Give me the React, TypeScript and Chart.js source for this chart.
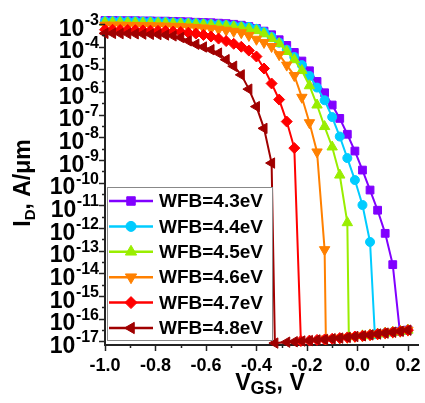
import React, { useEffect, useRef } from 'react';
import { Chart, registerables } from 'chart.js';
import { drawPoint } from 'chart.js/helpers';

Chart.register(...registerables);

// ---- data (log10 of drain current, A/um) ----
const vgs = [
  -1.0, -0.97, -0.94, -0.91, -0.88, -0.85, -0.82, -0.79, -0.76, -0.73,
  -0.7, -0.67, -0.64, -0.61, -0.58, -0.55, -0.52, -0.49, -0.46, -0.43,
  -0.4, -0.37, -0.34, -0.31, -0.28, -0.25, -0.22, -0.19, -0.16, -0.13,
  -0.1, -0.07, -0.04, -0.01, 0.02, 0.05, 0.08, 0.11, 0.14, 0.17, 0.2,
];

const legendLabels = ['WFB=4.3eV', 'WFB=4.4eV', 'WFB=4.5eV', 'WFB=4.6eV', 'WFB=4.7eV', 'WFB=4.8eV'];

const logId43 = [
  -2.84, -2.84, -2.85, -2.85, -2.85, -2.86, -2.86, -2.87, -2.87, -2.88,
  -2.89, -2.9, -2.92, -2.93, -2.94, -2.96, -2.98, -3.01, -3.05, -3.11,
  -3.19, -3.31, -3.47, -3.69, -3.94, -4.25, -4.63, -5.06, -5.53, -6.03,
  -6.57, -7.16, -7.86, -8.6, -9.44, -10.32, -11.21, -12.23, -13.61,
  -16.55, -16.5,
];
const logId44 = [
  -2.87, -2.87, -2.87, -2.88, -2.88, -2.89, -2.89, -2.9, -2.91, -2.93,
  -2.94, -2.95, -2.96, -2.98, -3.0, -3.02, -3.04, -3.07, -3.1, -3.13,
  -3.21, -3.35, -3.56, -3.82, -4.13, -4.45, -4.81, -5.29, -5.8, -6.36,
  -7.1, -7.96, -8.91, -9.88, -10.98, -12.61,
  -16.68, -16.63, -16.59, -16.55, -16.5,
];
const logId45 = [
  -2.93, -2.93, -2.93, -2.94, -2.94, -2.95, -2.95, -2.96, -2.97, -2.98,
  -2.99, -3.0, -3.01, -3.03, -3.05, -3.07, -3.09, -3.12, -3.16, -3.22,
  -3.29, -3.43, -3.64, -3.86, -4.21, -4.57, -5.05, -5.72, -6.57, -7.52,
  -8.42, -9.66, -11.76,
  -16.79, -16.75, -16.71, -16.67, -16.63, -16.59, -16.55, -16.5,
];
const logId46 = [
  -3.05, -3.05, -3.05, -3.06, -3.06, -3.07, -3.07, -3.08, -3.09, -3.1,
  -3.11, -3.13, -3.15, -3.17, -3.2, -3.23, -3.27, -3.32, -3.38, -3.5,
  -3.67, -3.81, -3.99, -4.35, -4.81, -5.27, -6.23, -7.35, -8.64, -12.95,
  -16.89, -16.85, -16.82, -16.78, -16.75, -16.71, -16.67, -16.63, -16.59, -16.55, -16.5,
];
const logId47 = [
  -3.25, -3.25, -3.26, -3.26, -3.27, -3.28, -3.29, -3.3, -3.31, -3.33,
  -3.35, -3.38, -3.42, -3.48, -3.55, -3.64, -3.75, -3.87, -4.0, -4.17,
  -4.43, -4.96, -5.62, -6.33, -7.3, -8.47,
  -16.98, -16.96, -16.93, -16.91, -16.88, -16.85, -16.82, -16.78, -16.75, -16.71,
  -16.67, -16.63, -16.59, -16.55, -16.5,
];
const logId48 = [
  -3.41, -3.41, -3.42, -3.42, -3.43, -3.44, -3.45, -3.46, -3.48, -3.52,
  -3.59, -3.74, -3.89, -4.01, -4.13, -4.28, -4.57, -4.86, -5.24, -5.87,
  -6.64, -7.6, -9.13,
  -17.07, -17.03, -17.01, -16.98, -16.96, -16.93, -16.91, -16.88, -16.85, -16.82,
  -16.78, -16.75, -16.71, -16.67, -16.63, -16.59, -16.55, -16.5,
];

// gate voltage where each curve falls to the off-state floor
const cliffVgs = [0.168, 0.069, -0.034, -0.125, -0.224, -0.327];

const yTickExponents = [-3, -4, -5, -6, -7, -8, -9, -10, -11, -12, -13, -14, -15, -16, -17];
const xTickValues = [-1.0, -0.8, -0.6, -0.4, -0.2, 0.0, 0.2];
const xTickLabels = ['-1.0', '-0.8', '-0.6', '-0.4', '-0.2', '0.0', '0.2'];
const xMinorTicks = [-0.9, -0.7, -0.5, -0.3, -0.1, 0.1];

// ---- styles ----
const seriesColors = ['#8000FF', '#00CCFF', '#99EE00', '#FF8000', '#FF0000', '#A00000'];
const pointStyles = ['rect', 'circle', 'triangle', 'triangle', 'rectRot', 'triangle'];
const pointRotations = [0, 0, 0, 180, 0, 270];
const pointRadii = [5.5, 4.5, 6, 6, 5.5, 6];

const FONT_FAMILY = '"Liberation Sans", Arial, Helvetica, sans-serif';

const decorPlugin = {
  id: 'decor',
  afterDraw(chart: any) {
    const { ctx, scales } = chart;
    const x = scales.x;
    const y = scales.y;
    const left = chart.chartArea.left;
    const bottom = chart.chartArea.bottom;
    ctx.save();

    // y ticks
    ctx.strokeStyle = '#222';
    ctx.lineWidth = 1.5;
    for (const k of yTickExponents) {
      const py = Math.round(y.getPixelForValue(Math.pow(10, k))) + 0.5;
      ctx.beginPath();
      ctx.moveTo(left - 6, py);
      ctx.lineTo(left, py);
      ctx.stroke();
      if (k > -17) {
        const pm = Math.round(y.getPixelForValue(Math.pow(10, k - 0.5))) + 0.5;
        ctx.beginPath();
        ctx.moveTo(left - 3, pm);
        ctx.lineTo(left, pm);
        ctx.stroke();
      }
    }
    // x ticks
    for (const v of xTickValues) {
      const px = Math.round(x.getPixelForValue(v)) + 0.5;
      ctx.beginPath();
      ctx.moveTo(px, bottom);
      ctx.lineTo(px, bottom + 6);
      ctx.stroke();
    }
    for (const v of xMinorTicks) {
      const px = Math.round(x.getPixelForValue(v)) + 0.5;
      ctx.beginPath();
      ctx.moveTo(px, bottom);
      ctx.lineTo(px, bottom + 3);
      ctx.stroke();
    }

    // y labels 10^k
    ctx.fillStyle = '#000';
    ctx.textBaseline = 'alphabetic';
    ctx.textAlign = 'left';
    const baseFont = `bold 23px ${FONT_FAMILY}`;
    const supFont = `bold 16px ${FONT_FAMILY}`;
    for (const k of yTickExponents) {
      const py = y.getPixelForValue(Math.pow(10, k));
      const sup = String(k);
      ctx.font = supFont;
      const sw = ctx.measureText(sup).width;
      ctx.font = baseFont;
      const bw = ctx.measureText('10').width;
      const right = 99;
      ctx.fillText('10', right - sw - bw - 0.5, py + 11.5);
      ctx.font = supFont;
      ctx.fillText(sup, right - sw, py + 1);
    }

    // x labels
    ctx.font = `bold 18px ${FONT_FAMILY}`;
    ctx.textAlign = 'center';
    xTickValues.forEach((v, i) => {
      ctx.fillText(xTickLabels[i], x.getPixelForValue(v), 371);
    });

    // x title: V_GS, V
    {
      const big = `bold 23px ${FONT_FAMILY}`;
      const small = `bold 18px ${FONT_FAMILY}`;
      ctx.textAlign = 'left';
      ctx.font = big;
      const w1 = ctx.measureText('V').width;
      const w3 = ctx.measureText(', V').width;
      ctx.font = small;
      const w2 = ctx.measureText('GS').width;
      const total = w1 + w2 + w3;
      let sx = 270 - total / 2;
      ctx.font = big;
      ctx.fillText('V', sx, 390);
      sx += w1;
      ctx.font = small;
      ctx.fillText('GS', sx, 394);
      sx += w2;
      ctx.font = big;
      ctx.fillText(', V', sx, 390);
    }

    // y title: I_D, A/µm (rotated)
    {
      const big = `bold 23px ${FONT_FAMILY}`;
      const small = `bold 15px ${FONT_FAMILY}`;
      ctx.save();
      ctx.translate(30, 183);
      ctx.rotate(-Math.PI / 2);
      ctx.textAlign = 'left';
      ctx.font = big;
      const w1 = ctx.measureText('I').width;
      const w3 = ctx.measureText(', A/\u03bcm').width;
      ctx.font = small;
      const w2 = ctx.measureText('D').width;
      const total = w1 + w2 + w3;
      let su = -total / 2;
      ctx.font = big;
      ctx.fillText('I', su, 0);
      su += w1;
      ctx.font = small;
      ctx.fillText('D', su, 5);
      su += w2;
      ctx.font = big;
      ctx.fillText(', A/\u03bcm', su, 0);
      ctx.restore();
    }

    // legend
    {
      const bx = 107.5, by = 187.5, bw = 165, bh = 153;
      ctx.fillStyle = '#fff';
      ctx.fillRect(bx, by, bw, bh);
      ctx.strokeStyle = '#888';
      ctx.lineWidth = 1;
      ctx.strokeRect(bx, by, bw, bh);
      ctx.font = `bold 19px ${FONT_FAMILY}`;
      ctx.textAlign = 'left';
      ctx.textBaseline = 'middle';
      legendLabels.forEach((lab, i) => {
        const ly = 201 + i * 25.4;
        const col = seriesColors[i];
        ctx.strokeStyle = col;
        ctx.lineWidth = 2.5;
        ctx.beginPath();
        ctx.moveTo(109, ly);
        ctx.lineTo(153, ly);
        ctx.stroke();
        ctx.fillStyle = col;
        ctx.lineWidth = 1;
        drawPoint(ctx, {
          pointStyle: pointStyles[i],
          rotation: pointRotations[i],
          radius: pointRadii[i] + 0.5,
          borderWidth: 1,
        } as any, 131, ly);
        ctx.fillStyle = '#000';
        ctx.fillText(lab, 159, ly + 1);
      });
    }

    ctx.restore();
  },
};

export default function App() {
  const canvasRef = useRef<HTMLCanvasElement>(null);

  useEffect(() => {
    const canvas = canvasRef.current;
    if (!canvas) return;
    const logSeries = [logId43, logId44, logId45, logId46, logId47, logId48];
    const datasets = logSeries.map((arr, i) => {
      const cliffIdx = arr.findIndex((v) => v < -16);
      return {
        label: legendLabels[i],
        data: arr.map((v, j) => ({ x: j === cliffIdx ? cliffVgs[i] : vgs[j], y: Math.pow(10, v) })),
        borderColor: seriesColors[i],
        backgroundColor: seriesColors[i],
        borderWidth: 2,
        pointStyle: pointStyles[i],
        pointRotation: pointRotations[i],
        pointRadius: pointRadii[i],
        pointBorderWidth: 1,
        pointBackgroundColor: seriesColors[i],
        pointBorderColor: seriesColors[i],
        tension: 0,
        clip: false as any,
        order: 5 - i,
      };
    });

    const chart = new Chart(canvas, {
      type: 'line',
      data: { datasets: datasets as any },
      options: {
        animation: false,
        responsive: false,
        maintainAspectRatio: false,
        devicePixelRatio: 1,
        layout: { padding: { top: 20, right: 7, bottom: 0, left: 0 } },
        plugins: { legend: { display: false }, tooltip: { enabled: false } },
        scales: {
          x: {
            type: 'linear',
            min: -1.0,
            max: 0.24,
            ticks: { display: false },
            grid: { display: false },
            border: { display: true, color: '#222', width: 2 },
            afterFit: (s: any) => { s.height = 58; },
          },
          y: {
            type: 'logarithmic',
            min: Math.pow(10, -17.15),
            max: Math.pow(10, -2.82),
            ticks: { display: false },
            grid: { display: false },
            border: { display: true, color: '#222', width: 2 },
            afterFit: (s: any) => { s.width = 105; },
          },
        },
      } as any,
      plugins: [decorPlugin],
    });
    return () => chart.destroy();
  }, []);

  return (
    <div style={{ position: 'fixed', left: 0, top: 0, width: 425, height: 403, background: '#fff' }}>
      <canvas ref={canvasRef} width={425} height={403} style={{ display: 'block', width: 425, height: 403 }} />
    </div>
  );
}
